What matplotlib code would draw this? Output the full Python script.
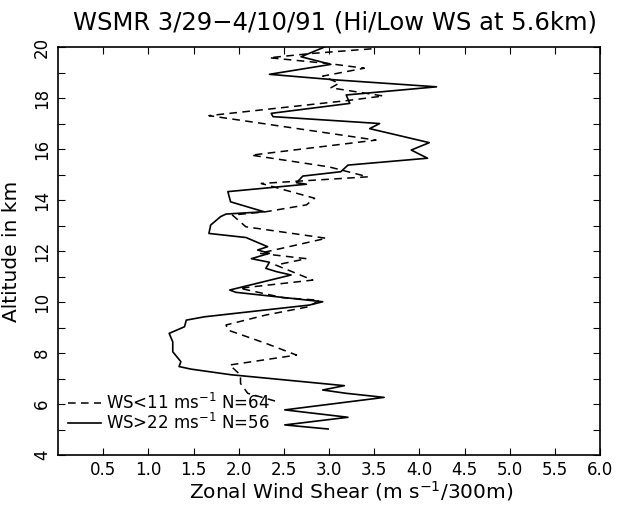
import numpy as np
import matplotlib
matplotlib.use('Agg')
import matplotlib.pyplot as plt

# zonal wind shear profiles (value, altitude)
low_ws = [3.47, 2.78, 2.34, 3.00, 3.39, 2.93, 3.11, 3.02, 3.60, 3.20,
          1.67, 3.52, 2.14, 3.00, 3.43, 2.25, 2.84, 2.75, 2.30, 1.93,
          2.08, 2.97, 2.23, 2.75, 2.41, 2.82, 2.01, 2.49, 2.89, 2.78,
          2.30, 1.86, 1.88, 2.30, 2.64, 1.90, 2.02, 2.02, 2.10, 2.43]
low_alt = [19.93, 19.74, 19.58, 19.35, 19.17, 18.86, 18.58, 18.40, 18.08, 17.90,
           17.31, 16.35, 15.76, 15.30, 14.91, 14.65, 14.07, 13.81, 13.54, 13.41,
           12.95, 12.50, 11.91, 11.70, 11.45, 10.86, 10.54, 10.17, 10.07, 9.82,
           9.49, 9.10, 8.90, 8.38, 7.92, 7.53, 7.14, 6.81, 6.42, 6.09]

high_ws = [2.95, 2.80, 2.69, 3.02, 2.34, 3.08, 4.19, 3.19, 3.23, 2.36,
           2.38, 3.56, 3.45, 4.11, 3.91, 4.09, 3.21, 3.13, 2.71, 2.64,
           2.75, 1.88, 1.91, 2.28, 1.86, 1.80, 1.69, 1.67, 2.08, 2.32,
           2.21, 2.34, 2.14, 2.34, 2.30, 2.42, 2.58, 1.90, 1.97, 2.93,
           2.78, 1.62, 1.42, 1.40, 1.23, 1.27, 1.27, 1.36, 1.34, 1.47,
           1.91, 3.17, 2.93, 3.19, 3.61, 2.51, 3.21, 2.51, 2.99]
high_alt = [20.00, 19.78, 19.62, 19.32, 18.93, 18.71, 18.44, 18.12, 17.79, 17.40,
            17.27, 17.00, 16.80, 16.25, 15.96, 15.64, 15.37, 15.11, 14.94, 14.68,
            14.62, 14.33, 13.93, 13.54, 13.45, 13.35, 13.02, 12.69, 12.53, 12.17,
            12.04, 11.91, 11.70, 11.56, 11.32, 11.19, 11.06, 10.47, 10.38, 10.01,
            9.88, 9.42, 9.29, 9.03, 8.77, 8.44, 8.05, 7.66, 7.47, 7.37,
            7.15, 6.72, 6.55, 6.42, 6.26, 5.77, 5.48, 5.18, 5.02]

x_ticks = [0.5, 1.0, 1.5, 2.0, 2.5, 3.0, 3.5, 4.0, 4.5, 5.0, 5.5, 6.0]
y_ticks = [4, 6, 8, 10, 12, 14, 16, 18, 20]

plt.rcParams['font.family'] = ['DejaVu Sans']

fig = plt.figure(figsize=(6.24, 5.08), dpi=100)
ax = fig.add_axes([0.093, 0.1043, 0.8686, 0.8031])

ax.plot(low_ws, low_alt, color='black', lw=1.1, ls=(0, (5, 3.5)),
        label='WS<11 ms$^{-1}$ N=64')
ax.plot(high_ws, high_alt, color='black', lw=1.2,
        label='WS>22 ms$^{-1}$ N=56')

ax.set_xlim(0, 6)
ax.set_ylim(4, 20)
ax.set_xticks(x_ticks)
ax.set_xticklabels(['%.1f' % v for v in x_ticks])
ax.set_yticks(y_ticks)
ax.set_yticks(np.arange(5, 20, 2), minor=True)
ax.tick_params(which='both', direction='in', top=True, right=True,
               length=5, width=0.8, labelsize=12)
ax.tick_params(axis='x', pad=4)
ax.tick_params(axis='y', pad=5)
for lab in ax.get_yticklabels():
    lab.set_rotation(90)
    lab.set_va('center')
for s in ax.spines.values():
    s.set_linewidth(1.2)

ax.set_xlabel('Zonal Wind Shear (m s$^{-1}$/300m)', fontsize=14.5)
ax.xaxis.set_label_coords(0.54, -0.06)
ax.set_ylabel('Altitude in km', fontsize=14.5)
ax.yaxis.set_label_coords(-0.068, 0.5)
fig.text(0.537, 0.956, 'WSMR 3/29\u22124/10/91 (Hi/Low WS at 5.6km)',
         fontsize=17.5, ha='center', va='center')

ax.legend(loc='lower left', bbox_to_anchor=(0.0, 0.03), frameon=False,
          fontsize=12, handlelength=2.0, handletextpad=0.3,
          labelspacing=0.0, borderaxespad=0.2)

fig.savefig('out.png', dpi=100)
